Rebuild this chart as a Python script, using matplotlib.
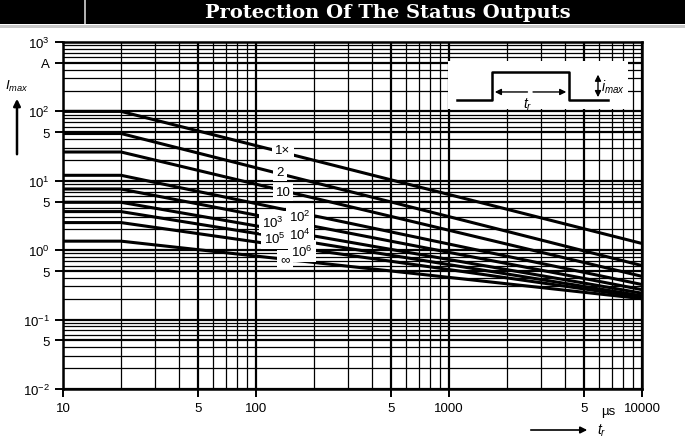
import matplotlib
matplotlib.use("Agg")
import matplotlib.pyplot as plt
from matplotlib.patches import Rectangle, FancyArrowPatch
from matplotlib.ticker import FixedLocator, LogLocator, NullFormatter

# pulse current limit curves
time_us = [10, 20, 10000]          # flat from 10 to 20 us, then falling
curve_names = ["1×", "2", "10", "10$^2$", "10$^3$", "10$^4$", "10$^5$", "10$^6$", "∞"]
i_start = [100, 48, 26, 12, 7.6, 4.9, 3.6, 2.5, 1.35]
i_end = [1.25, 0.6, 0.42, 0.32, 0.27, 0.24, 0.22, 0.21, 0.2]
label_t = [138, 133, 138, 169, 122, 169, 125, 173, 141]
label_i = [27.8, 13.4, 6.9, 3.1, 2.55, 1.71, 1.5, 0.97, 0.75]

y_ticks = [1000, 500, 100, 50, 10, 5, 1, 0.5, 0.1, 0.05, 0.01]
y_ticklabels = ["10$^3$", "A", "10$^2$", "5", "10$^1$", "5", "10$^0$", "5", "10$^{-1}$", "5", "10$^{-2}$"]
x_ticks = [10, 50, 100, 500, 1000, 5000, 10000]
x_ticklabels = ["10", "5", "100", "5", "1000", "5", "10000"]

plt.rcParams["font.family"] = ["Liberation Sans", "DejaVu Sans"]
plt.rcParams["mathtext.fontset"] = "custom"
plt.rcParams["mathtext.rm"] = "Liberation Sans"
plt.rcParams["mathtext.it"] = "Liberation Sans:italic"

W, H = 685, 439
fig = plt.figure(figsize=(W / 100, H / 100), dpi=100)

# title bar
fig.patches.append(Rectangle((0, 1 - 25 / H), 1, 25 / H, transform=fig.transFigure,
                             facecolor="black", edgecolor="none"))
fig.patches.append(Rectangle((84 / W, 1 - 25 / H), 2 / W, 25 / H, transform=fig.transFigure,
                             facecolor="#b0b0b0", edgecolor="none"))
fig.patches.append(Rectangle((0, 1 - 29 / H), 1, 3 / H, transform=fig.transFigure,
                             facecolor="#c8c8c8", edgecolor="none"))
fig.text(388 / W, 1 - 13 / H, "Protection Of The Status Outputs", color="white",
         fontsize=14, fontweight="bold", family="DejaVu Serif", ha="center", va="center")

ax = fig.add_axes([63 / W, 49 / H, 579 / W, 347 / H])
ax.set_xscale("log")
ax.set_yscale("log")
ax.set_xlim(10, 10000)
ax.set_ylim(0.01, 1000)

# log grid, black like the scan
ax.xaxis.set_minor_locator(LogLocator(base=10, subs=range(2, 10)))
ax.yaxis.set_minor_locator(LogLocator(base=10, subs=range(2, 10)))
ax.grid(True, which="minor", color="black", lw=0.9)
ax.grid(True, which="major", color="black", lw=1.6)
ax.xaxis.set_minor_formatter(NullFormatter())
ax.yaxis.set_minor_formatter(NullFormatter())
ax.tick_params(which="minor", length=0)

for s0, s1 in zip(i_start, i_end):
    ax.plot(time_us, [s0, s0, s1], color="black", lw=2.2, solid_capstyle="butt")

for name, lt, li in zip(curve_names, label_t, label_i):
    ax.text(lt, li, name, fontsize=9.5, ha="center", va="center",
            bbox=dict(facecolor="white", edgecolor="none", pad=2.2))

ax.yaxis.set_major_locator(FixedLocator(y_ticks))
ax.set_yticklabels(y_ticklabels)
ax.xaxis.set_major_locator(FixedLocator(x_ticks))
ax.set_xticklabels(x_ticklabels)
ax.tick_params(which="major", direction="out", length=6, width=1.4, labelsize=9.5,
               color="black")
for sp in ax.spines.values():
    sp.set_linewidth(1.8)

ax.text((608 - 63) / 579, -0.045, "µs", transform=ax.transAxes, fontsize=9.5,
        ha="center", va="top")

# inset: pulse sketch
ax.add_patch(Rectangle((0.665, 0.807), 0.311, 0.138, transform=ax.transAxes,
                       facecolor="white", edgecolor="none", zorder=3))
ax.plot([0.680, 0.741, 0.741, 0.874, 0.874, 0.941],
        [0.833, 0.833, 0.914, 0.914, 0.833, 0.833],
        transform=ax.transAxes, color="black", lw=1.8, zorder=4)
ax.annotate("", xy=(0.741, 0.856), xytext=(0.807, 0.856), xycoords="axes fraction",
            arrowprops=dict(arrowstyle="-|>", color="black", lw=1, mutation_scale=9), zorder=4)
ax.annotate("", xy=(0.874, 0.856), xytext=(0.807, 0.856), xycoords="axes fraction",
            arrowprops=dict(arrowstyle="-|>", color="black", lw=1, mutation_scale=9), zorder=4)
ax.annotate("", xy=(0.924, 0.914), xytext=(0.924, 0.833), xycoords="axes fraction",
            arrowprops=dict(arrowstyle="<|-|>", color="black", lw=1, mutation_scale=9), zorder=4)
ax.text(0.803, 0.822, "$t_r$", transform=ax.transAxes, fontsize=10, ha="center",
        va="center", zorder=5)
ax.text(0.950, 0.872, "$i_{max}$", transform=ax.transAxes, fontsize=10, ha="center",
        va="center", zorder=5)

# axis labels with arrows, as in the datasheet
fig.text(17 / W, 1 - 86 / H, "$I_{max}$", fontsize=9.5, ha="center", va="center")
fig.patches.append(FancyArrowPatch(
    (17 / W, 1 - 158 / H), (17 / W, 1 - 97 / H), transform=fig.transFigure,
    arrowstyle="-|>", mutation_scale=10, color="black", lw=1.8))
fig.patches.append(FancyArrowPatch(
    (528 / W, 1 - 431 / H), (590 / W, 1 - 431 / H), transform=fig.transFigure,
    arrowstyle="-|>", mutation_scale=10, color="black", lw=1.2))
fig.text(597 / W, 1 - 431 / H, "$t_r$", fontsize=10, ha="left", va="center")

fig.savefig("out.png", dpi=100)
